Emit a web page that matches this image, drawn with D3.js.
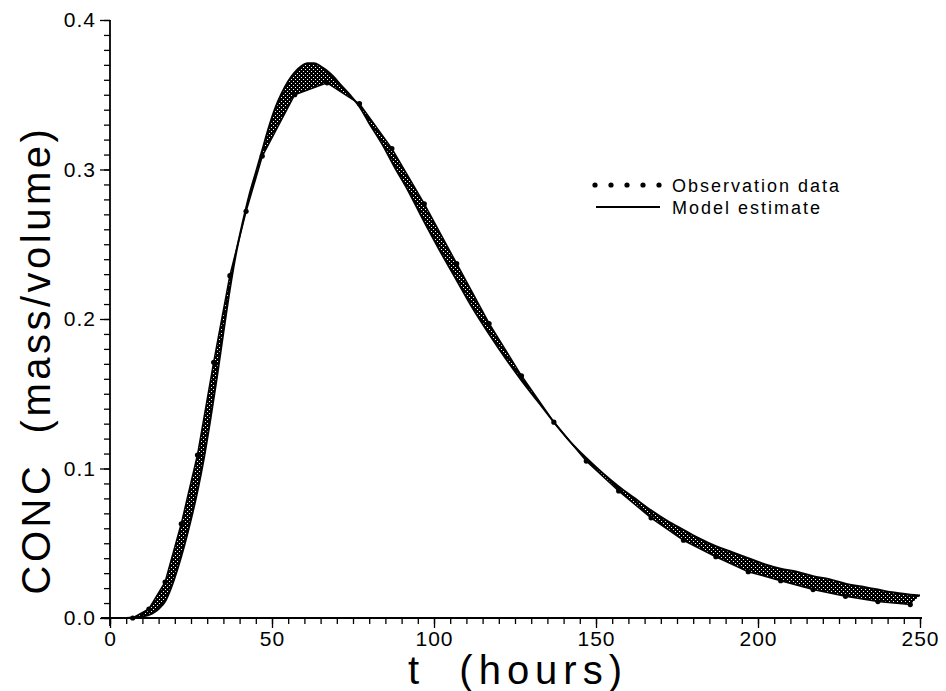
<!DOCTYPE html>
<html>
<head>
<meta charset="utf-8">
<script src="https://d3js.org/d3.v7.min.js"></script>
<style>
  body { margin: 0; background: #fff; }
  svg { display: block; }
  text { font-family: "Liberation Sans", Arial, sans-serif; fill: #000; }
</style>
</head>
<body>
<script>
  var width = 946, height = 691;

  // observation data (t in hours, concentration)
  var obsT = [7, 12, 17, 22, 27, 32, 37, 42, 47, 57, 67, 77, 87, 97, 107, 117, 127, 137, 147,
              157, 167, 177, 187, 197, 207, 217, 227, 237, 247];
  var obsC = [0.0, 0.006, 0.024, 0.063, 0.109, 0.171, 0.229, 0.272, 0.309, 0.350, 0.358, 0.344,
              0.314, 0.277, 0.237, 0.197, 0.162, 0.131, 0.105, 0.085, 0.067, 0.052, 0.041,
              0.031, 0.025, 0.019, 0.0145, 0.011, 0.009];

  // model estimate
  var modelT = [0, 5, 10, 13, 15, 17, 19, 21, 23, 25, 27, 29, 31, 33, 35, 37, 39, 41, 43, 45, 47,
                49, 51, 53, 55, 57, 59, 61, 63, 65, 67, 69, 71, 74, 77, 80, 84, 88, 92, 97, 102,
                107, 112, 117, 122, 127, 132, 137, 142, 147, 152, 157, 162, 167, 172, 177, 182,
                187, 192, 197, 202, 207, 212, 217, 222, 227, 232, 237, 242, 247, 250];
  var modelC = [0, 0, 0.001, 0.003, 0.006, 0.011, 0.021, 0.034, 0.049, 0.066, 0.085, 0.107, 0.133,
                0.161, 0.191, 0.220, 0.245, 0.265, 0.283, 0.298, 0.313, 0.328, 0.341, 0.351,
                0.359, 0.365, 0.369, 0.371, 0.371, 0.369, 0.366, 0.362, 0.357, 0.350, 0.342,
                0.331, 0.317, 0.301, 0.286, 0.265, 0.245, 0.226, 0.207, 0.190, 0.174, 0.159,
                0.145, 0.131, 0.118, 0.107, 0.097, 0.088, 0.080, 0.072, 0.065, 0.059, 0.053,
                0.048, 0.044, 0.040, 0.036, 0.033, 0.031, 0.028, 0.026, 0.023, 0.021, 0.019,
                0.017, 0.0155, 0.015];

  var xTicks = [0, 50, 100, 150, 200, 250];
  var yTicks = [0.0, 0.1, 0.2, 0.3, 0.4];
  var legendLabels = ['Observation data', 'Model estimate'];

  var obs = obsT.map(function(t, i) { return {t: t, c: obsC[i]}; });
  var model = modelT.map(function(t, i) { return {t: t, c: modelC[i]}; });

  var svg = d3.select('body').append('svg')
    .attr('width', width)
    .attr('height', height);

  // scales
  var x = d3.scaleLinear().domain([0, 250]).range([110, 920]);
  var y = d3.scaleLinear().domain([0, 0.4]).range([618, 20]);

  // stipple fill for the band between data and model
  var pat = svg.append('defs').append('pattern')
    .attr('id', 'stipple')
    .attr('patternUnits', 'userSpaceOnUse')
    .attr('width', 4).attr('height', 4);
  pat.append('rect').attr('width', 4).attr('height', 4).attr('fill', '#000');
  pat.append('rect').attr('x', 1).attr('y', 1).attr('width', 1).attr('height', 1).attr('fill', '#fff');
  pat.append('rect').attr('x', 3).attr('y', 3).attr('width', 1).attr('height', 1).attr('fill', '#fff');

  var modelLine = d3.line()
    .x(function(d) { return x(d.t); })
    .y(function(d) { return y(d.c); })
    .curve(d3.curveMonotoneX);
  var obsLine = d3.line()
    .x(function(d) { return x(d.t); })
    .y(function(d) { return y(d.c); });

  var bandPath = modelLine(model) + 'L' + obsLine(obs.slice().reverse()).slice(1) + 'Z';
  svg.append('path')
    .attr('d', bandPath)
    .attr('fill', 'url(#stipple)')
    .attr('stroke', 'none');

  svg.append('path')
    .attr('d', obsLine(obs))
    .attr('fill', 'none')
    .attr('stroke', '#000')
    .attr('stroke-width', 1.6);

  svg.append('path')
    .attr('d', modelLine(model))
    .attr('fill', 'none')
    .attr('stroke', '#000')
    .attr('stroke-width', 2);

  svg.selectAll('circle.obs')
    .data(obs)
    .enter().append('circle')
    .attr('class', 'obs')
    .attr('cx', function(d) { return x(d.t); })
    .attr('cy', function(d) { return y(d.c); })
    .attr('r', 2.6)
    .attr('fill', '#000');

  // x axis
  svg.append('g').attr('transform', 'translate(0,618)')
    .call(d3.axisBottom(x).tickValues(d3.range(0, 251, 5)).tickSize(6).tickFormat(''));
  svg.append('g').attr('transform', 'translate(0,618)')
    .call(d3.axisBottom(x).tickValues(xTicks).tickSize(10).tickPadding(3).tickFormat(d3.format('d')));

  // y axis
  svg.append('g').attr('transform', 'translate(110,0)')
    .call(d3.axisLeft(y).tickValues(d3.range(0, 0.4001, 0.01)).tickSize(6).tickFormat(''));
  svg.append('g').attr('transform', 'translate(110,0)')
    .call(d3.axisLeft(y).tickValues(yTicks).tickSize(10).tickPadding(4).tickFormat(d3.format('.1f')));

  svg.selectAll('.domain').remove();
  svg.selectAll('.tick line').attr('stroke', '#000').attr('stroke-width', 1.3);
  svg.selectAll('.tick text')
    .attr('font-size', 21)
    .attr('letter-spacing', 1)
    .attr('font-family', '"Liberation Sans", Arial, sans-serif');

  svg.append('line')
    .attr('x1', 101).attr('x2', 922).attr('y1', 618).attr('y2', 618)
    .attr('stroke', '#000').attr('stroke-width', 1.8);
  svg.append('line')
    .attr('x1', 110).attr('x2', 110).attr('y1', 20).attr('y2', 626)
    .attr('stroke', '#000').attr('stroke-width', 1.8);

  // axis titles
  svg.append('text')
    .attr('x', 518).attr('y', 684)
    .attr('text-anchor', 'middle')
    .attr('font-size', 40)
    .attr('letter-spacing', 6)
    .attr('xml:space', 'preserve')
    .text('t  (hours)');
  svg.append('text')
    .attr('transform', 'translate(50,360) rotate(-90)')
    .attr('text-anchor', 'middle')
    .attr('font-size', 40)
    .attr('letter-spacing', 3.5)
    .attr('xml:space', 'preserve')
    .text('CONC  (mass/volume)');

  // legend
  var legend = svg.append('g');
  legend.selectAll('circle')
    .data(d3.range(5))
    .enter().append('circle')
    .attr('cx', function(d) { return 595 + d * 16; })
    .attr('cy', 185)
    .attr('r', 2.6)
    .attr('fill', '#000');
  legend.append('line')
    .attr('x1', 596).attr('x2', 660).attr('y1', 207).attr('y2', 207)
    .attr('stroke', '#000').attr('stroke-width', 1.8);
  legend.selectAll('text')
    .data(legendLabels)
    .enter().append('text')
    .attr('x', 672)
    .attr('y', function(d, i) { return 192 + i * 22; })
    .attr('font-size', 18)
    .attr('letter-spacing', 2)
    .text(function(d) { return d; });
</script>
</body>
</html>
